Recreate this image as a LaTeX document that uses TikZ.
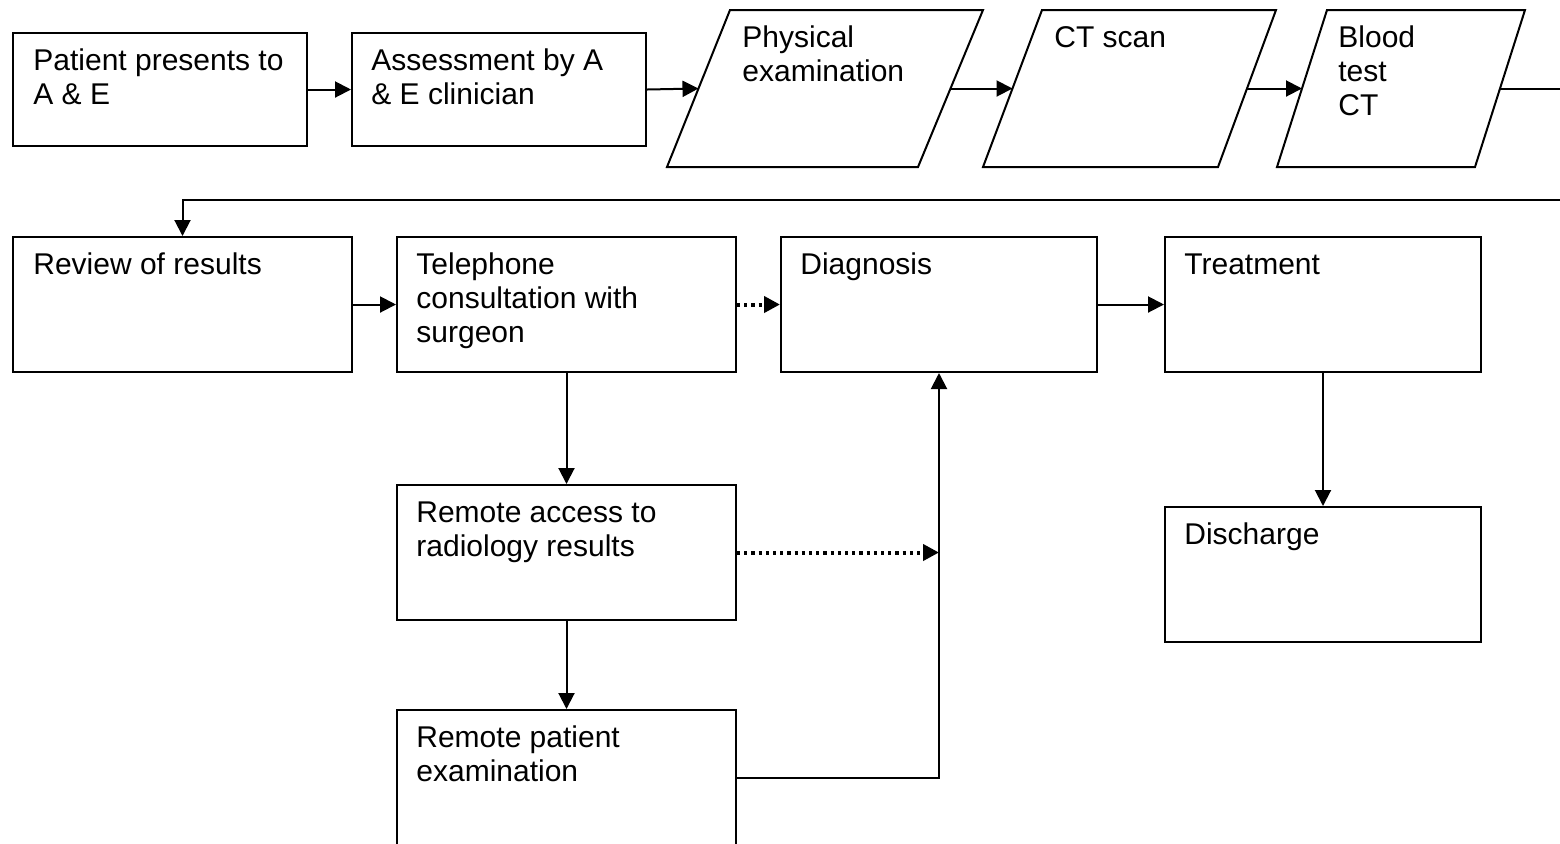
\documentclass[tikz,border=0pt]{standalone}
\usepackage{fontspec}
\setmainfont{Liberation Sans}
\usetikzlibrary{arrows.meta,calc}
\begin{document}
\begin{tikzpicture}[x=0.5pt,y=-0.5pt,
  box/.style={draw, line width=1pt, rectangle, inner sep=0pt, anchor=north west},
  txt/.style={anchor=base west, inner sep=0pt, align=left, font=\fontsize{15}{17}\selectfont},
  arr/.style={line width=1pt, -{Triangle[length=8pt,width=8pt]}},
  dotarr/.style={line width=2pt, dash pattern=on 1.6pt off 2pt, -{Triangle[length=8pt,width=8pt]}},
  para/.style={draw, line width=1pt, line join=miter}]
\useasboundingbox (0,0) rectangle (1560,843);
\fill[white] (0,0) rectangle (1560,843);

% top row rectangles (text anchored at the baseline of the last line)
\node[box, minimum width=147pt, minimum height=56.5pt] (pat) at (12,32) {};
\node[txt] (patt) at (33,104) {Patient presents to\\A \& E};
\node[box, minimum width=147pt, minimum height=56.5pt] (ass) at (351,32) {};
\node[txt] (asst) at (371,104) {Assessment by A\\\& E clinician};

% parallelograms
\draw[para] (730,10) -- (983,10) -- (918,167) -- (667,167) -- cycle;
\coordinate (phyl) at (698.5,88.5);
\coordinate (phyr) at (950.5,88.5);
\node[txt] (phyt) at (742,81) {Physical\\examination};

\draw[para] (1042,10) -- (1276,10) -- (1218,167) -- (983,167) -- cycle;
\coordinate (ctl) at (1012.5,88.5);
\coordinate (ctr) at (1247,88.5);
\node[txt] (ctt) at (1054,47) {CT scan};

\draw[para] (1327,10) -- (1525,10) -- (1475,167) -- (1277,167) -- cycle;
\coordinate (bldl) at (1302,88.5);
\coordinate (bldr) at (1500,88.5);
\node[txt] (bldt) at (1338,115) {Blood\\test\\CT};

\coordinate (out1) at (1562,88.5);
\coordinate (ret) at (1562,200);

% second row
\node[box, minimum width=169.5pt, minimum height=67.5pt] (rev) at (12,236) {};
\node[txt] (revt) at (33,274) {Review of results};
\node[box, minimum width=169.5pt, minimum height=67.5pt] (tel) at (396,236) {};
\node[txt] (telt) at (416,342) {Telephone\\consultation with\\surgeon};
\node[box, minimum width=158pt, minimum height=67.5pt] (dia) at (780,236) {};
\node[txt] (diat) at (800,274) {Diagnosis};
\node[box, minimum width=158pt, minimum height=67.5pt] (tre) at (1164,236) {};
\node[txt] (tret) at (1184,274) {Treatment};
\node[box, minimum width=158pt, minimum height=67.5pt] (dis) at (1164,506) {};
\node[txt] (dist) at (1184,544) {Discharge};
\node[box, minimum width=169.5pt, minimum height=67.5pt] (rad) at (396,484) {};
\node[txt] (radt) at (416,556) {Remote access to\\radiology results};
\node[box, minimum width=169.5pt, minimum height=68pt] (rpe) at (396,709) {};
\node[txt] (rpet) at (416,781) {Remote patient\\examination};

% connectors
\draw[arr] (pat.east) -- (ass.west);
\draw[arr] (ass.east) -- (phyl);
\draw[arr] (phyr) -- (ctl);
\draw[arr] (ctr) -- (bldl);
\draw[line width=1pt] (bldr) -- (out1);
\draw[arr] (ret) -| (rev.north);
\draw[arr] (rev.east) -- (tel.west);
\draw[dotarr] (tel.east) -- (dia.west);
\draw[arr] (dia.east) -- (tre.west);
\draw[arr] (tre.south) -- (dis.north);
\draw[arr] (tel.south) -- (rad.north);
\draw[arr] (rad.south) -- (rpe.north);
\draw[arr] (rpe.east) -| (dia.south);
\draw[dotarr] (rad.east) -- (rad.east -| dia.south);
\end{tikzpicture}
\end{document}
